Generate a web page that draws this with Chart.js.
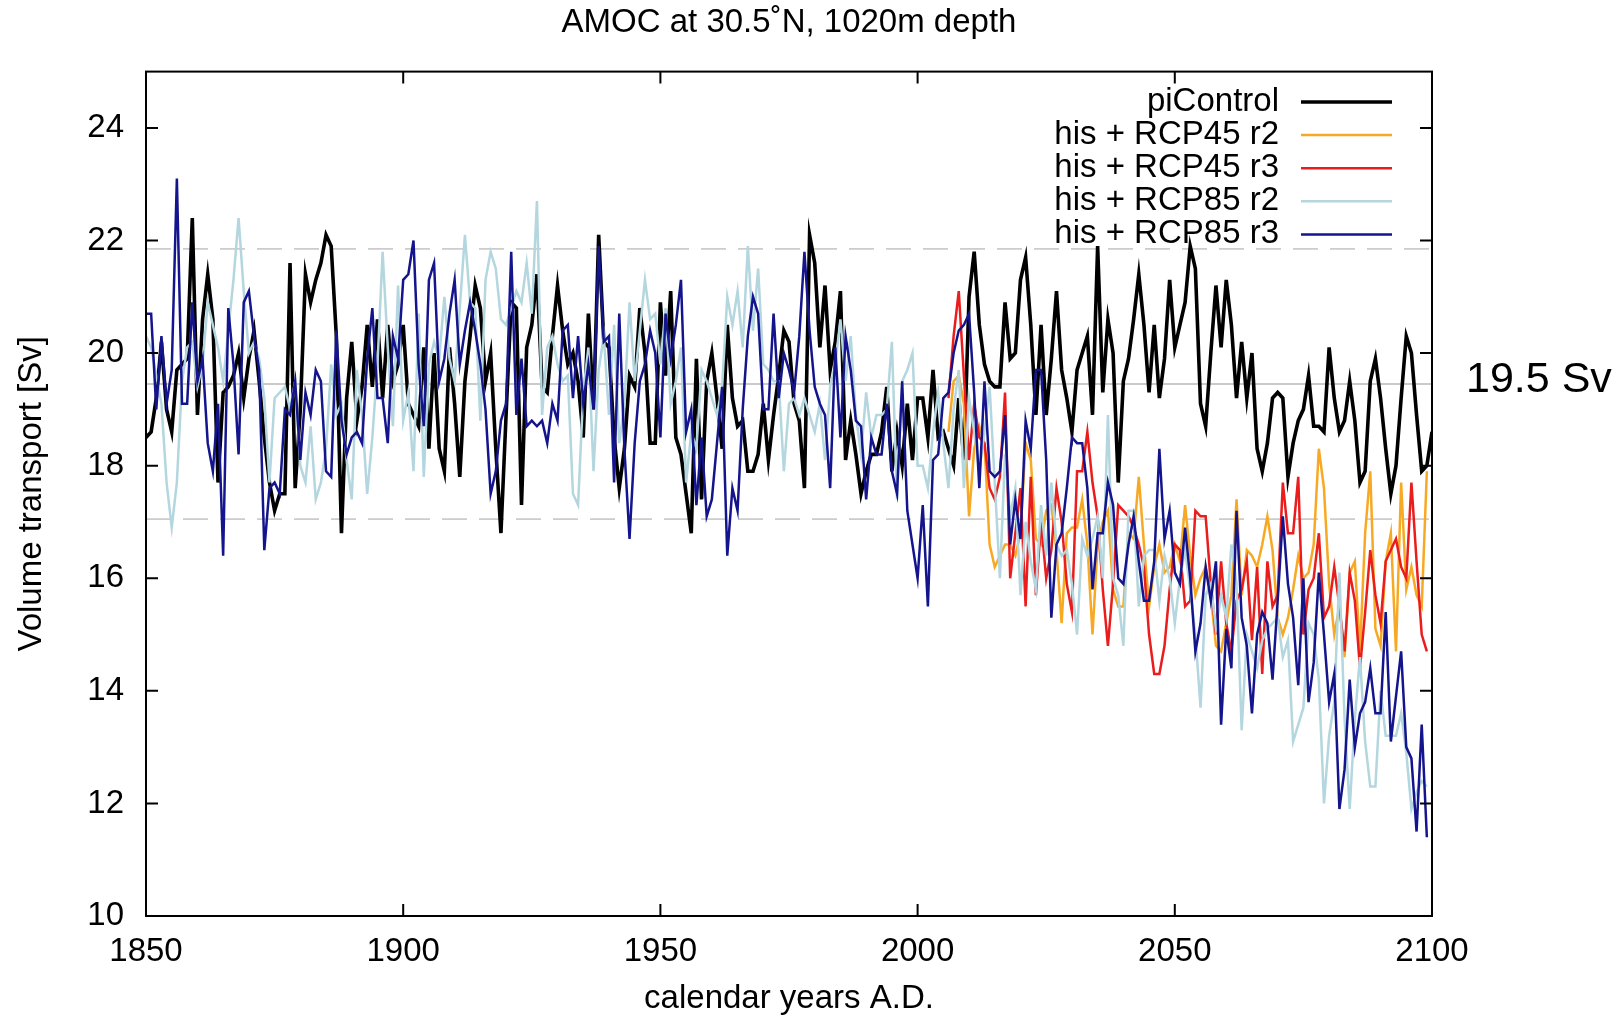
<!DOCTYPE html>
<html>
<head>
<meta charset="utf-8">
<title>AMOC at 30.5˚N, 1020m depth</title>
<script src="https://cdn.jsdelivr.net/npm/chart.js@4/dist/chart.umd.min.js"></script>
<style>
html, body { margin: 0; padding: 0; background: #fff; }
#wrap { width: 1623px; height: 1019px; }
</style>
</head>
<body>
<div id="wrap"><canvas id="amoc" width="1623" height="1019" style="width:1623px;height:1019px"></canvas></div>
<script>
// yearly values (Sv)
var startYear = 1850;
var rcp45Start = 2006;

var piControl = [
  18.5,18.6,19.2,20.2,19.0,18.6,19.7,19.8,19.9,22.4,
  18.9,20.6,21.4,20.6,17.7,19.3,19.4,19.6,20.0,19.2,
  19.9,20.4,19.5,18.5,17.7,17.2,17.5,17.5,21.6,17.6,
  19.0,21.4,20.9,21.3,21.6,22.1,21.9,20.3,16.8,19.2,
  20.2,18.8,19.4,20.5,19.4,20.6,19.2,20.5,19.5,19.8,
  20.5,19.1,18.9,18.7,20.1,18.3,20.0,18.3,17.9,20.1,
  19.1,17.8,19.5,20.3,21.2,20.8,19.5,20.0,18.3,16.8,
  18.9,20.9,20.8,17.3,20.1,20.5,21.4,19.4,19.3,20.3,
  21.2,20.4,19.8,20.0,19.5,18.5,20.7,19.0,22.1,20.2,
  20.1,18.5,17.6,18.3,19.6,19.4,20.8,20.0,18.4,18.4,
  20.9,19.6,21.1,18.5,18.2,17.5,16.8,19.9,17.4,19.5,
  20.0,19.2,18.3,20.5,19.2,18.7,18.8,17.9,17.9,18.2,
  19.1,18.1,18.9,19.6,20.4,20.2,19.1,18.8,17.6,22.1,
  21.6,20.1,21.2,19.7,20.2,21.1,18.1,18.8,18.2,17.5,
  17.9,18.2,18.2,18.6,19.4,17.9,18.6,18.0,19.1,18.1,
  19.2,19.2,18.5,19.7,18.5,18.6,18.3,18.0,19.2,18.1,
  21.0,21.8,20.5,19.8,19.5,19.4,19.4,20.9,19.9,20.0,
  21.3,21.7,20.5,18.9,20.5,18.9,19.9,21.1,19.7,19.2,
  18.6,19.7,20.0,20.3,18.9,21.9,19.3,20.6,20.0,17.7,
  19.5,19.9,20.6,21.4,20.5,19.3,20.5,19.2,19.9,21.3,
  20.1,20.5,20.9,21.9,21.5,19.1,18.7,20.0,21.2,20.1,
  21.3,20.5,19.2,20.2,19.2,20.0,18.3,17.9,18.4,19.2,
  19.3,19.2,17.8,18.4,18.8,19.0,19.6,18.7,18.7,18.6,
  20.1,19.2,18.6,18.8,19.5,18.8,17.7,17.9,19.5,19.9,
  19.2,18.3,17.5,18.0,19.2,20.3,20.0,18.9,17.9,18.0,
  18.6
];

var rcp85r2 = [
  20.3,20.1,19.6,19.1,17.7,16.9,17.7,19.5,20.1,20.2,
  19.4,19.8,20.9,20.5,20.1,19.5,20.4,21.3,22.4,21.1,
  20.0,20.2,19.9,19.2,17.7,19.2,19.3,19.4,19.0,19.5,
  18.0,17.7,18.7,17.4,17.7,18.3,19.8,18.9,19.1,18.1,
  17.4,19.7,18.9,17.5,18.5,19.8,21.8,20.1,18.7,21.2,
  18.8,19.3,17.9,20.7,17.8,19.8,20.2,19.9,21.0,19.9,
  19.5,20.8,22.1,20.9,20.8,18.8,21.3,21.8,21.5,20.6,
  20.5,20.8,21.1,20.9,21.6,20.7,22.7,18.9,20.1,20.3,
  19.8,19.5,19.6,17.5,17.3,19.3,20.1,17.9,19.7,20.3,
  18.9,20.5,18.4,19.1,20.9,19.5,20.4,21.3,20.6,20.7,
  19.8,20.8,19.1,19.5,20.1,17.7,18.6,18.3,19.7,19.5,
  19.2,18.9,19.4,21.0,20.5,21.1,20.1,21.9,20.4,21.5,
  19.8,19.7,19.5,19.5,17.9,19.1,19.2,18.9,19.2,18.9,
  18.6,19.1,18.1,19.4,19.8,20.6,19.5,20.3,18.9,18.2,
  19.3,18.5,18.9,18.9,19.0,20.2,17.4,19.5,19.7,20.0,
  18.0,18.0,17.6,18.6,19.3,18.4,17.6,19.0,19.7,17.6,
  19.2,18.6,17.9,18.6,19.4,17.7,16.0,18.2,17.1,17.6,
  15.7,17.0,16.3,15.8,17.3,16.4,17.7,16.6,16.4,16.5,
  15.9,15.0,16.7,16.4,16.7,17.1,16.0,18.9,16.0,15.7,
  14.8,17.2,17.2,15.5,16.4,16.5,16.5,15.6,16.4,16.0,
  15.2,16.0,16.5,15.8,15.0,13.7,15.7,15.9,15.1,15.7,
  15.3,16.6,15.9,13.3,15.0,14.7,14.4,14.9,15.1,15.2,
  15.3,14.6,14.9,13.1,13.4,13.7,15.2,15.0,14.2,12.0,
  13.2,13.8,16.1,13.5,11.9,13.5,14.6,13.1,12.3,12.3,
  14.0,13.2,13.2,13.2,13.6,12.9,11.9,12.2,12.4,12.3
];

var rcp85r3 = [
  20.7,20.7,19.0,20.3,19.1,19.7,23.1,19.1,19.1,20.9,
  19.5,19.9,18.4,17.9,19.1,16.4,20.8,19.8,18.2,20.9,
  21.1,20.3,19.7,16.5,17.6,17.7,17.5,19.0,18.9,19.5,
  18.1,19.3,18.9,19.7,19.5,17.9,17.8,20.4,18.8,18.2,
  18.5,18.6,18.4,19.9,20.8,19.2,19.2,18.4,20.3,19.9,
  21.3,21.4,22.0,19.8,18.7,21.3,21.6,19.5,19.9,20.7,
  21.3,19.8,20.4,20.9,20.4,19.8,19.0,17.5,17.9,18.8,
  19.1,21.8,18.9,19.9,18.7,18.8,18.7,18.8,18.4,19.1,
  18.8,20.4,20.5,19.2,20.3,19.1,19.8,19.0,21.9,20.2,
  20.3,17.7,20.7,18.3,16.7,18.4,19.5,19.8,20.4,20.0,
  18.5,20.7,19.9,20.5,21.3,18.6,19.0,17.3,18.5,17.1,
  17.4,18.4,19.4,16.4,17.6,17.2,19.0,20.3,21.0,20.7,
  19.0,19.0,20.7,19.2,20.0,19.7,19.3,20.3,21.8,20.4,
  19.4,19.1,18.9,17.6,20.1,18.5,20.3,19.7,18.8,18.7,
  17.4,18.5,18.2,18.2,19.1,17.9,17.5,19.5,17.2,16.6,
  16.0,17.3,15.5,18.1,18.2,19.2,19.3,20.0,20.4,20.5,
  20.7,19.3,17.6,19.5,17.9,17.8,17.9,18.9,16.6,17.4,
  16.7,18.8,18.3,19.7,19.7,18.1,15.3,16.6,16.8,17.6,
  18.5,18.4,18.4,17.6,15.8,16.8,16.8,17.7,17.3,16.0,
  15.9,16.6,17.1,16.3,15.6,15.6,16.3,18.3,16.7,17.2,
  16.1,15.9,16.9,16.0,14.7,15.2,16.2,15.6,16.3,13.4,
  15.1,14.4,17.2,15.3,14.8,13.6,15.0,15.4,15.2,14.2,
  15.6,17.1,15.9,15.3,14.1,16.0,13.8,14.5,16.1,15.0,
  13.8,14.3,11.9,12.6,14.2,13.0,13.6,13.8,14.4,13.6,
  13.6,15.4,13.1,13.9,14.7,13.0,12.8,11.5,13.4,11.4
];

// RCP4.5 runs, shown from 2006 (historical part is shared with the RCP8.5 runs)
var rcp45r2 = [
  18.6,19.5,19.6,19.1,
  17.1,18.3,18.7,18.4,16.6,16.2,16.4,16.6,16.6,16.4,
  16.8,18.4,18.1,16.7,16.6,17.2,17.3,16.5,15.2,16.8,
  16.9,16.9,17.4,16.6,15.0,16.6,17.0,17.2,15.8,15.5,
  15.5,16.8,16.7,17.8,16.6,15.5,16.2,16.6,16.1,16.2,
  16.6,16.3,17.3,16.4,15.7,16.0,16.2,15.7,14.8,14.7,
  15.2,15.7,17.4,15.7,16.5,16.4,16.2,16.6,17.1,16.5,
  15.3,15.0,15.3,15.8,16.4,16.0,16.1,16.6,18.3,17.6,
  15.9,15.0,15.5,14.6,16.1,16.3,14.7,16.8,17.9,15.1,
  14.8,16.3,16.8,14.7,17.7,15.8,16.2,15.7,15.5,17.9
];

var rcp45r3 = [
  19.2,20.3,21.1,19.6,
  18.1,19.1,18.5,18.4,17.6,17.4,17.8,19.3,16.0,16.8,
  17.6,15.5,17.8,15.7,17.0,16.0,16.5,17.6,17.0,15.9,
  15.4,17.9,17.9,18.6,17.7,17.1,15.8,14.8,15.9,17.3,
  17.2,17.1,16.9,16.6,16.2,15.0,14.3,14.3,14.8,15.8,
  16.6,16.5,15.5,15.6,17.2,17.1,17.1,15.9,15.0,16.3,
  15.2,14.7,15.6,15.8,16.3,14.9,16.2,14.3,16.3,15.5,
  15.7,17.7,16.8,16.8,17.8,15.0,15.8,16.0,16.8,15.3,
  15.5,16.2,15.5,14.7,16.1,15.6,14.4,15.4,16.5,15.7,
  15.2,16.3,16.5,16.7,16.2,16.0,17.7,16.3,15.0,14.7
];

var xTicks = [1850, 1900, 1950, 2000, 2050, 2100];
var yTicks = [10, 12, 14, 16, 18, 20, 22, 24];

// mean and mean +/- 2 sigma of piControl
var refLines = [21.85, 19.45, 17.05];
var refLabel = '19.5 Sv';

var font = 'Liberation Sans, Arial, Helvetica, sans-serif';
var fontSize = 33;

function toPoints(start, values) {
  return values.map(function (v, i) { return {x: start + i, y: v}; });
}

var refLinesPlugin = {
  id: 'refLines',
  beforeDatasetsDraw: function (chart) {
    var ctx = chart.ctx, a = chart.chartArea, y = chart.scales.y;
    ctx.save();
    refLines.forEach(function (v, i) {
      var py = y.getPixelForValue(v);
      ctx.beginPath();
      ctx.lineWidth = 1.6;
      if (i === 1) {
        ctx.setLineDash([]);
        ctx.strokeStyle = '#b8b8b8';
      } else {
        ctx.setLineDash([25, 12]);
        ctx.strokeStyle = '#cccccc';
      }
      ctx.moveTo(a.left, py);
      ctx.lineTo(a.right, py);
      ctx.stroke();
    });
    ctx.restore();
  }
};

var framePlugin = {
  id: 'frame',
  afterDatasetsDraw: function (chart) {
    var ctx = chart.ctx, a = chart.chartArea, sx = chart.scales.x, sy = chart.scales.y;
    ctx.save();
    // legend: text right aligned, sample line on the right
    ctx.font = fontSize + 'px ' + font;
    ctx.textAlign = 'right';
    ctx.textBaseline = 'middle';
    chart.data.datasets.forEach(function (ds, i) {
      var ly = 102 + i * 33.1;
      ctx.fillStyle = '#000';
      ctx.fillText(ds.label, 1279, ly);
      ctx.beginPath();
      ctx.strokeStyle = ds.borderColor;
      ctx.lineWidth = ds.borderWidth;
      ctx.moveTo(1301, ly);
      ctx.lineTo(1392, ly);
      ctx.stroke();
    });

    // label of the mean line, outside the plot
    ctx.font = '43px ' + font;
    ctx.textAlign = 'left';
    ctx.textBaseline = 'alphabetic';
    ctx.fillText(refLabel, 1466, sy.getPixelForValue(refLines[1]) + 8);

    // border and inward ticks
    ctx.strokeStyle = '#000';
    ctx.lineWidth = 2;
    ctx.strokeRect(a.left, a.top, a.right - a.left, a.bottom - a.top);
    ctx.beginPath();
    yTicks.forEach(function (v) {
      var py = sy.getPixelForValue(v);
      ctx.moveTo(a.left, py); ctx.lineTo(a.left + 12, py);
      ctx.moveTo(a.right, py); ctx.lineTo(a.right - 12, py);
    });
    xTicks.forEach(function (v) {
      var px = sx.getPixelForValue(v);
      ctx.moveTo(px, a.bottom); ctx.lineTo(px, a.bottom - 12);
      ctx.moveTo(px, a.top); ctx.lineTo(px, a.top + 12);
    });
    ctx.stroke();
    ctx.restore();
  }
};

var amoc = new Chart(document.getElementById('amoc'), {
  type: 'line',
  data: {
    datasets: [
      {label: 'piControl', data: toPoints(startYear, piControl), borderColor: '#000000', borderWidth: 3.6, order: 4},
      {label: 'his + RCP45 r2', data: toPoints(rcp45Start, rcp45r2), borderColor: '#f8a924', borderWidth: 2.5, order: 3},
      {label: 'his + RCP45 r3', data: toPoints(rcp45Start, rcp45r3), borderColor: '#ea1c1c', borderWidth: 2.5, order: 2},
      {label: 'his + RCP85 r2', data: toPoints(startYear, rcp85r2), borderColor: '#b3d6df', borderWidth: 2.5, order: 1},
      {label: 'his + RCP85 r3', data: toPoints(startYear, rcp85r3), borderColor: '#14148c', borderWidth: 2.5, order: 0}
    ]
  },
  options: {
    responsive: false,
    animation: false,
    events: [],
    elements: {point: {radius: 0}, line: {tension: 0, fill: false}},
    layout: {padding: {left: 0, right: 191, top: 0, bottom: 0}},
    plugins: {
      legend: {display: false},
      tooltip: {enabled: false},
      title: {
        display: true,
        text: 'AMOC at 30.5˚N, 1020m depth',
        fullSize: false,
        color: '#000',
        font: {family: font, size: fontSize, weight: 'normal'},
        padding: {top: 3, bottom: 29}
      }
    },
    scales: {
      x: {
        type: 'linear',
        min: 1850,
        max: 2100,
        afterBuildTicks: function (s) { s.ticks = xTicks.map(function (v) { return {value: v}; }); },
        afterFit: function (s) { s.height = 103; },
        grid: {display: false, drawTicks: false},
        border: {display: false},
        ticks: {color: '#000', padding: 16, maxRotation: 0, font: {family: font, size: fontSize}, callback: function (v) { return String(v); }},
        title: {display: true, text: 'calendar years A.D.', color: '#000', font: {family: font, size: fontSize}, padding: {top: 0, bottom: 0}}
      },
      y: {
        min: 10,
        max: 25,
        afterBuildTicks: function (s) { s.ticks = yTicks.map(function (v) { return {value: v}; }); },
        afterFit: function (s) { s.width = 146; },
        grid: {display: false, drawTicks: false},
        border: {display: false},
        ticks: {color: '#000', padding: 22, font: {family: font, size: fontSize}},
        title: {display: true, text: 'Volume transport [Sv]', color: '#000', font: {family: font, size: fontSize}, padding: {top: 12, bottom: 0}}
      }
    }
  },
  plugins: [refLinesPlugin, framePlugin]
});
</script>
</body>
</html>
